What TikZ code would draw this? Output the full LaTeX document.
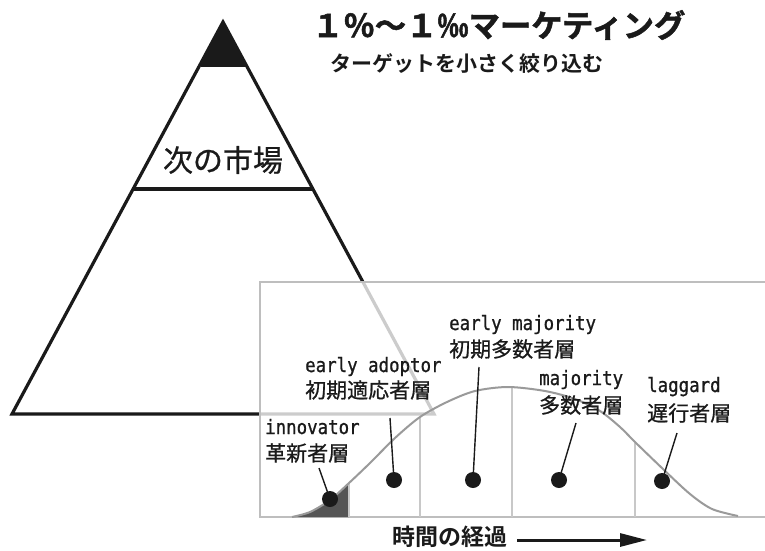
\documentclass[tikz,border=0pt]{standalone}
\usepackage{fontspec}
\newfontfamily\jp{Noto Sans CJK JP}[FakeBold=0.7]
\newfontfamily\jpbold{Noto Sans CJK JP Bold}
\newfontfamily\jptitle{Noto Sans CJK JP Bold}[FakeBold=1.6]
\newfontfamily\monofont{DejaVu Sans Mono}[FakeBold=0.9, FakeStretch=0.88]
\usetikzlibrary{arrows.meta}
\definecolor{boxgray}{HTML}{BEBEBE}
\definecolor{curvegray}{HTML}{9A9A9A}
\definecolor{divgray}{HTML}{C8C8C8}
\definecolor{innofill}{HTML}{555555}
\definecolor{ink}{HTML}{1A1A1A}
\tikzset{
  tri/.style={line width=3.2pt, draw=ink, line join=miter},
  lat/.style={anchor=base west, inner sep=0pt, font=\monofont\fontsize{19.8}{22}\selectfont, text=ink},
  jpl/.style={anchor=west, inner sep=0pt, font=\jp\fontsize{21}{24}\selectfont, text=ink},
  dot/.style={circle, fill=ink, inner sep=0pt, minimum size=16pt},
  leader/.style={line width=1.4pt, draw=ink},
  divline/.style={line width=2pt, draw=divgray},
}
\begin{document}
\begin{tikzpicture}[x=1pt,y=-1pt]
\useasboundingbox (0,0) rectangle (765,551);
\fill[white] (0,0) rectangle (765,551);
% ---- pyramid
\coordinate (apex) at (223,22);
\coordinate (bl) at (12,414);
\coordinate (br) at (434,414);
\fill[ink] (apex) -- (200.5,65) -- (245.5,65) -- cycle;
\draw[tri] (apex) -- (bl) -- (br) -- cycle;
\draw[tri] (133,189) -- (313,189);
\draw[tri] (200.5,65) -- (245.5,65);
\node[inner sep=0pt, font=\jp\fontsize{30}{32}\selectfont, text=ink] (next) at (223,160) {次の市場};
% ---- titles
\node[anchor=west, inner sep=0pt, font=\jptitle\fontsize{31.3}{33}\selectfont, text=ink] (title) at (312,25) {１％〜１‰マーケティング};
\node[anchor=west, inner sep=0pt, font=\jpbold\fontsize{21}{23}\selectfont, text=ink] (sub) at (330,64) {ターゲットを小さく絞り込む};
% ---- overlay box
\fill[white, opacity=0.78] (260,282) rectangle (770,517);
\draw[boxgray, line width=2.5pt] (770,282) -- (260,282) -- (260,517) -- (770,517);
% ---- innovator fill
\begin{scope}
\clip (280,380) rectangle (349,520);
\fill[innofill] plot[smooth] coordinates {(292,517) (310,512) (330,500) (349,483) (370,463) (395,438) (420,417)} -- (420,517) -- cycle;
\end{scope}
% ---- dividers
\draw[divline] (349,517) -- (349,483);
\draw[divline] (420,517) -- (420,417);
\draw[divline] (512,517) -- (512,387);
\draw[divline] (635,517) -- (635,443);
% ---- curve
\draw[curvegray, line width=2pt] plot[smooth] coordinates {(292,517) (310,512) (330,500) (349,483) (370,463) (395,438) (420,417) (447,402) (475,391) (508,387) (545,391) (575,399) (600,411) (620,427) (635,442) (663,469) (690,494) (712,509) (738,516)};
% ---- labels
\node[lat] (innoL) at (265,434) {innovator};
\node[jpl] (innoJ) at (265,453) {革新者層};
\node[lat] (eaL) at (305,372) {early adoptor};
\node[jpl] (eaJ) at (305,390) {初期適応者層};
\node[lat] (emL) at (449,330) {early majority};
\node[jpl] (emJ) at (449,349) {初期多数者層};
\node[lat] (maL) at (539,385) {majority};
\node[jpl] (maJ) at (539,405) {多数者層};
\node[lat] (laL) at (647,392) {laggard};
\node[jpl] (laJ) at (647,413) {遅行者層};
% ---- leaders and dots
\coordinate (t1) at (319,468);
\coordinate (t2) at (390,418);
\coordinate (t3) at (479,367);
\coordinate (t4) at (576,423);
\coordinate (t5) at (677,433);
\node[dot] (d1) at (330,499) {};
\node[dot] (d2) at (394,480) {};
\node[dot] (d3) at (473,480) {};
\node[dot] (d4) at (559,480) {};
\node[dot] (d5) at (662,481) {};
\draw[leader] (t1) -- (d1.center);
\draw[leader] (t2) -- (d2.center);
\draw[leader] (t3) -- (d3.center);
\draw[leader] (t4) -- (d4.center);
\draw[leader] (t5) -- (d5.center);
% ---- time axis
\node[anchor=west, inner sep=0pt, font=\jpbold\fontsize{23}{25}\selectfont, text=ink] (time) at (392,537) {時間の経過};
\coordinate (a1) at (517,540);
\coordinate (a2) at (647,540);
\draw[ink, line width=3pt, -{Triangle[length=27pt,width=13pt]}] (a1) -- (a2);
\end{tikzpicture}
\end{document}
